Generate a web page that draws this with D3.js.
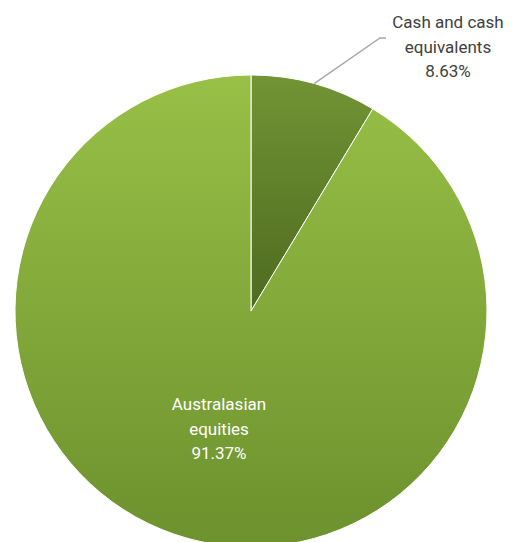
<!DOCTYPE html>
<html><head><meta charset="utf-8">
<script src="https://cdn.jsdelivr.net/npm/d3@7"></script>
<style>body{margin:0;background:#fff}text{font-family:Roboto,sans-serif;font-size:17px}</style>
</head><body><div id="chart"></div>
<script>
var categories = ["Cash and cash equivalents", "Australasian equities"];
var values = [8.63, 91.37];
var labels = [["Cash and cash", "equivalents", "8.63%"], ["Australasian", "equities", "91.37%"]];

var width = 513, height = 542, cx = 251, cy = 311, r = 236;
var svg = d3.select("#chart").append("svg").attr("width", width).attr("height", height);
var defs = svg.append("defs");
// gradient stops, y1/y2 relative to pie centre
var grads = [["#729434", "#4e6a20", -r, 0], ["#98c046", "#6c912e", -r, r]];
grads.forEach(function (g, i) {
    var lg = defs.append("linearGradient").attr("id", "g" + i)
        .attr("gradientUnits", "userSpaceOnUse")
        .attr("x1", 0).attr("y1", g[2]).attr("x2", 0).attr("y2", g[3]);
    lg.append("stop").attr("offset", 0).attr("stop-color", g[0]);
    lg.append("stop").attr("offset", 1).attr("stop-color", g[1]);
});

var pie = d3.pie().sort(null).value(function (d) { return d; });
var arcs = pie(values);
var arc = d3.arc().innerRadius(0).outerRadius(r);
var g = svg.append("g").attr("transform", "translate(" + cx + "," + cy + ")");
g.selectAll("path").data(arcs).enter().append("path")
    .attr("d", arc).attr("fill", function (d, i) { return "url(#g" + i + ")"; })
    .attr("stroke", "#fff").attr("stroke-width", 1);

// leader line for small slice
var mid = (arcs[0].startAngle + arcs[0].endAngle) / 2;
var p0 = [Math.sin(mid) * r, -Math.cos(mid) * r];
svg.append("polyline")
    .attr("points", [[cx + p0[0], cy + p0[1]], [380, 38], [386, 38]].map(function (p) { return p.join(","); }).join(" "))
    .attr("fill", "none").attr("stroke", "#a6a6a6").attr("stroke-width", 1.3);

var t0 = svg.append("text").attr("text-anchor", "middle").attr("fill", "#404040");
labels[0].forEach(function (s, i) { t0.append("tspan").attr("x", 448).attr("y", 28 + i * 24.5).text(s); });
var t1 = svg.append("text").attr("text-anchor", "middle").attr("fill", "#fff");
labels[1].forEach(function (s, i) { t1.append("tspan").attr("x", 219).attr("y", 410 + i * 24.5).text(s); });
</script></body></html>
